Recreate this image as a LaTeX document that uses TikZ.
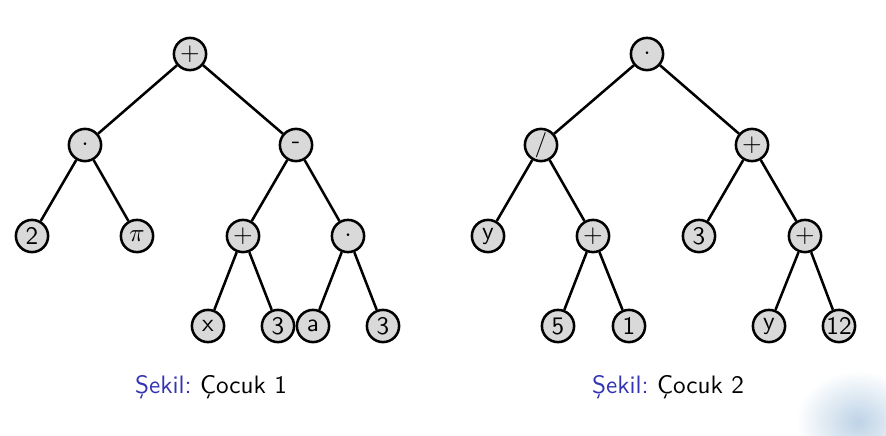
\documentclass[tikz,border=0pt]{standalone}
\usepackage{xcolor}
\definecolor{capBlue}{RGB}{51,51,179}
\definecolor{blobBlue}{RGB}{190,211,230}
\tikzset{
    opNode/.style={circle, draw=black, line width=1.1pt, fill=gray!30,
        inner sep=0pt, minimum size=14pt, font=\sffamily\fontsize{10.95}{13}\selectfont},
    treeEdge/.style={line width=1.1pt, black},
    capText/.style={font=\sffamily\fontsize{10.95}{13}\selectfont}
}

\begin{document}
\begin{tikzpicture}[x=0.01528cm, y=-0.01528cm]

    %fixes the page size:
    \useasboundingbox (0,0) rectangle (886,435);

    %draws the pale blob in the corner
    \begin{scope}
        \clip (788,357) rectangle (886,435);
        \shade[inner color=blobBlue, outer color=white] (858,422) ellipse (62 and 52);
    \end{scope}

    %draws first tree
    \node[opNode] (aRoot) at (190,54) {$+$};
    \node[opNode] (aL) at (85,145) {$\cdot$};
    \node[opNode] (aR) at (296,145) {-};
    \node[opNode] (aLL) at (32,236) {2};
    \node[opNode] (aLR) at (137,236) {$\pi$};
    \node[opNode] (aRL) at (243,236) {$+$};
    \node[opNode] (aRR) at (348,236) {$\cdot$};
    \node[opNode] (aRLL) at (208,326) {x};
    \node[opNode] (aRLR) at (278,326) {3};
    \node[opNode] (aRRL) at (313,326) {a};
    \node[opNode] (aRRR) at (383,326) {3};

    %draws second tree
    \node[opNode] (bRoot) at (647,54) {$\cdot$};
    \node[opNode] (bL) at (541,145) {/};
    \node[opNode] (bR) at (752,145) {$+$};
    \node[opNode] (bLL) at (488,236) {y};
    \node[opNode] (bLR) at (593,236) {$+$};
    \node[opNode] (bRL) at (699,236) {3};
    \node[opNode] (bRR) at (805,236) {$+$};
    \node[opNode] (bLRL) at (558,326) {5};
    \node[opNode] (bLRR) at (629,326) {1};
    \node[opNode] (bRRL) at (769,326) {y};
    \node[opNode] (bRRR) at (839,326) {12};

    %draws the edges
    \foreach \p/\c in {aRoot/aL, aRoot/aR, aL/aLL, aL/aLR, aR/aRL, aR/aRR,
        aRL/aRLL, aRL/aRLR, aRR/aRRL, aRR/aRRR,
        bRoot/bL, bRoot/bR, bL/bLL, bL/bLR, bR/bRL, bR/bRR,
        bLR/bLRL, bLR/bLRR, bRR/bRRL, bRR/bRRR}
        \draw[treeEdge] (\p) -- (\c);

    %captions
    \node[capText] (capA) at (211,387) {\textcolor{capBlue}{Şekil:}~Çocuk 1};
    \node[capText] (capB) at (668,387) {\textcolor{capBlue}{Şekil:}~Çocuk 2};

\end{tikzpicture}
\end{document}
